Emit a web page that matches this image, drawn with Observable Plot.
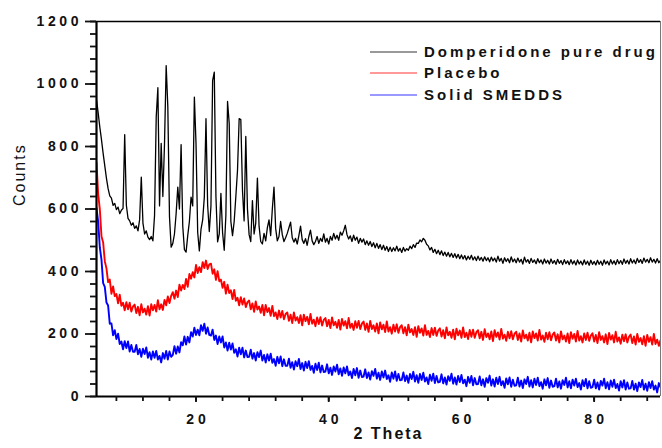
<!DOCTYPE html>
<html><head><meta charset="utf-8">
<script src="https://cdn.jsdelivr.net/npm/d3@7"></script>
<script src="https://cdn.jsdelivr.net/npm/@observablehq/plot@0.6"></script>
<style>
html,body{margin:0;padding:0;background:#fff;overflow:hidden;}
#chart{width:662px;height:448px;}
</style></head>
<body><div id="chart"></div>
<script>
// 2-theta sampling grid: 5.00 to 90.00 in 0.25 degree steps (one value per step)
const thetaStart = 5, thetaStep = 0.25;
const seriesNames = ["Domperidone pure drug", "Placebo", "Solid SMEDDS"];
const seriesColors = ["#000000", "#ff0000", "#0000ff"];
const xTicks = [8,12,16,20,24,28,32,36,40,44,48,52,56,60,64,68,72,76,80,84,88];
const xLabels = [20,40,60,80];
const yTicks = [0,40,80,120,160,200,240,280,320,360,400,440,480,520,560,600,640,680,720,760,800,840,880,920,960,1000,1040,1080,1120,1160,1200];
const yLabels = [0,200,400,600,800,1000,1200];

// Domperidone pure drug (each line = 5 degrees, 20 values)
const drug = [
950,908,862,822,778,738,698,665,642,635,612,618,598,606,585,596,602,838,612,570,
562,548,556,538,546,530,566,702,555,520,530,510,502,512,498,580,894,988,610,810,
640,809,1059,926,575,478,490,520,585,670,600,806,545,470,462,515,560,638,610,958,
808,525,466,535,565,638,889,612,528,610,1011,1038,640,495,520,650,525,468,580,944,
874,560,515,560,640,723,889,886,660,562,832,600,518,496,627,520,555,699,545,496,
488,522,498,540,565,515,600,670,538,498,512,560,518,496,508,522,540,558,508,494,
506,488,515,545,502,490,505,484,512,532,498,486,496,512,490,506,496,520,494,506,
488,512,500,522,504,516,500,526,516,530,548,518,504,514,496,516,500,510,490,506,
494,504,486,498,484,496,480,492,476,490,474,486,470,484,468,480,464,478,464,476,
466,481,465,474,461,477,465,473,468,481,473,486,477,491,490,501,495,506,500,487,
482,469,477,461,471,457,468,454,466,451,462,449,461,447,458,445,457,443,455,441,
453,440,451,437,449,439,452,437,447,435,449,436,445,433,447,435,444,431,446,434,
443,430,449,433,442,426,444,432,441,428,447,431,440,428,443,430,439,424,446,430,
438,426,442,429,437,425,441,428,437,424,440,427,436,424,440,426,435,423,439,426,
435,422,438,425,434,422,438,424,434,421,437,424,433,421,437,423,433,420,436,423,
432,421,436,423,433,420,437,424,433,421,438,424,434,422,438,425,435,423,440,426,
436,424,441,427,437,425,442,429,438,426,443,430,439,428,444,430,439,427,441,428,
436];

// Placebo
const placebo = [
749,648,599,513,493,433,410,366,374,329,352,321,328,298,326,290,300,276,302,279,
300,272,288,294,267,287,260,295,269,281,262,289,259,295,276,293,272,308,279,295,
277,309,292,320,299,322,334,313,339,318,358,339,357,344,376,351,392,377,398,381,
421,395,414,398,430,411,435,408,423,425,393,407,373,401,369,374,348,367,329,358,
331,340,312,341,306,316,292,318,294,314,286,302,307,279,298,271,304,278,288,268,
293,260,293,270,283,258,290,257,269,248,275,253,274,247,264,269,242,262,235,269,
243,254,235,260,228,262,241,255,231,264,233,246,225,253,232,254,227,245,251,225,
245,219,253,228,239,220,245,214,248,227,241,218,251,220,233,213,241,220,242,216,
233,240,213,234,207,242,216,228,208,234,202,237,215,230,206,240,208,222,201,230,
208,231,204,222,228,202,222,196,230,205,216,197,222,191,225,204,218,195,228,197,
210,190,219,197,220,194,211,218,192,212,186,221,196,207,188,214,183,217,196,211,
188,221,190,204,184,213,191,214,188,206,212,186,207,181,215,190,202,183,208,177,
212,191,205,182,216,185,198,178,207,186,209,183,201,207,181,202,176,211,186,198,
179,204,173,208,187,202,179,213,182,195,175,204,183,206,180,198,205,179,199,173,
208,183,195,176,202,171,206,185,200,176,210,179,193,173,202,181,204,178,195,202,
176,197,171,206,181,193,173,199,168,203,182,196,173,207,176,189,169,198,177,199,
173,191,198,171,192,166,200,175,187,167,193,162,197,175,190,166,200,168,182,162,
180];

// Solid SMEDDS
const smedds = [
603,560,477,438,363,351,301,291,233,234,196,212,184,201,168,176,151,177,155,176,
144,165,143,143,165,135,152,127,153,136,157,124,142,118,144,124,146,118,130,109,
139,121,146,118,144,127,133,161,137,160,141,174,164,192,166,191,173,206,192,220,
197,214,196,228,210,233,201,221,197,195,214,181,195,168,192,173,192,157,173,147,
172,150,170,140,151,128,156,135,156,125,147,126,127,150,121,139,115,142,126,147,
115,133,109,135,115,137,108,120,98,127,106,128,97,119,98,98,121,92,110,86,
113,97,120,88,107,83,111,91,113,85,98,76,105,85,108,77,99,78,80,103,
74,92,69,96,80,102,71,90,66,93,74,96,68,80,59,88,68,91,60,83,
62,64,87,59,77,54,81,66,88,57,76,53,80,61,83,56,68,47,77,57,
80,50,72,52,53,77,49,67,44,72,56,79,48,68,44,72,53,76,48,61,
40,70,50,73,43,66,45,47,71,42,61,38,65,50,73,41,61,38,66,46,
69,42,54,33,63,44,66,36,59,39,40,64,36,55,31,59,44,67,35,55,
32,60,40,63,36,49,28,58,39,61,31,54,34,36,60,32,51,27,55,40,
63,32,52,29,57,37,60,33,46,25,55,36,59,28,51,31,33,57,29,48,
25,52,37,60,29,49,26,54,35,57,30,43,22,52,33,56,26,49,28,30,
54,26,45,22,50,35,57,26,46,23,51,31,54,27,40,19,49,29,52,22,
45,25,26,50,22,41,17,45,30,53,22,41,18,46,27,49,22,35,13,43,
30];

const allSeries = [drug, placebo, smedds];
const rows = [];
allSeries.forEach((arr, s) => arr.forEach((v, i) => rows.push({theta: thetaStart + i * thetaStep, counts: v, series: seriesNames[s]})));

const FONT = "'Liberation Sans', Arial, sans-serif";
const widths = [1.3, 1.9, 1.9];

const lineMarks = seriesNames.map((name, s) =>
  Plot.lineY(rows.filter(d => d.series === name), {x: "theta", y: "counts", stroke: seriesColors[s], strokeWidth: widths[s], clip: true})
);

const chart = Plot.plot({
  width: 662, height: 448,
  marginLeft: 96, marginRight: 2, marginTop: 21, marginBottom: 52,
  style: {fontFamily: FONT, background: "#fff", color: "#111", overflow: "visible"},
  x: {domain: [5, 90]},
  y: {domain: [0, 1200]},
  marks: [
    ...lineMarks,
    Plot.ruleX([90], {stroke: "#777", strokeWidth: 1}),
    Plot.ruleY([1200], {stroke: "#000", strokeWidth: 1.6}),
    Plot.ruleX([5], {stroke: "#000", strokeWidth: 2.2}),
    Plot.ruleY([0], {stroke: "#000", strokeWidth: 2.2}),
    Plot.axisY(yTicks, {tickSize: 6, tickFormat: () => "", strokeWidth: 1.8, label: null}),
    Plot.axisY(yLabels, {tickSize: 11, tickPadding: 7, tickFormat: d => String(d), fontSize: 14, fontWeight: "bold", strokeWidth: 1.8, label: null}),
    Plot.axisX(xTicks, {tickSize: 5, tickFormat: () => "", strokeWidth: 1.8, label: null}),
    Plot.axisX(xLabels, {tickSize: 6, tickPadding: 12, tickFormat: d => String(d), fontSize: 14, fontWeight: "bold", strokeWidth: 1.8, label: null}),
    Plot.text(["Counts"], {text: d => d, frameAnchor: "left", rotate: -90, dx: -77, dy: -3, fontSize: 16, fill: "#111"}),
    Plot.text(["2 Theta"], {text: d => d, frameAnchor: "bottom", dx: 10, dy: 42, fontSize: 16, fontWeight: "bold", fill: "#111"})
  ]
});

document.getElementById("chart").appendChild(chart);

const svg = d3.select(chart);
// letter spacing like the original figure's lettering
svg.selectAll('g[aria-label="y-axis tick label"] text').attr("letter-spacing", "3.6px").attr("dx", 3.6);
svg.selectAll('g[aria-label="x-axis tick label"] text').attr("letter-spacing", "4px").attr("dx", 2);
svg.selectAll('g[aria-label="text"] text').attr("letter-spacing", "2px");

// legend (drawn inside the svg, top right)
const legend = svg.append("g").attr("font-family", FONT).attr("font-size", 15).attr("font-weight", "bold")
  .attr("letter-spacing", "3px").attr("text-anchor", "start");
const rowY = [52, 73, 95];
seriesNames.forEach((name, s) => {
  legend.append("line").attr("x1", 370).attr("x2", 417).attr("y1", rowY[s]).attr("y2", rowY[s])
    .attr("stroke", seriesColors[s]).attr("stroke-width", 1).attr("opacity", 0.8);
  legend.append("text").attr("x", 424).attr("y", rowY[s] + 5.3).attr("fill", "#111").attr("text-anchor", "start").text(name);
});
</script>
</body></html>
